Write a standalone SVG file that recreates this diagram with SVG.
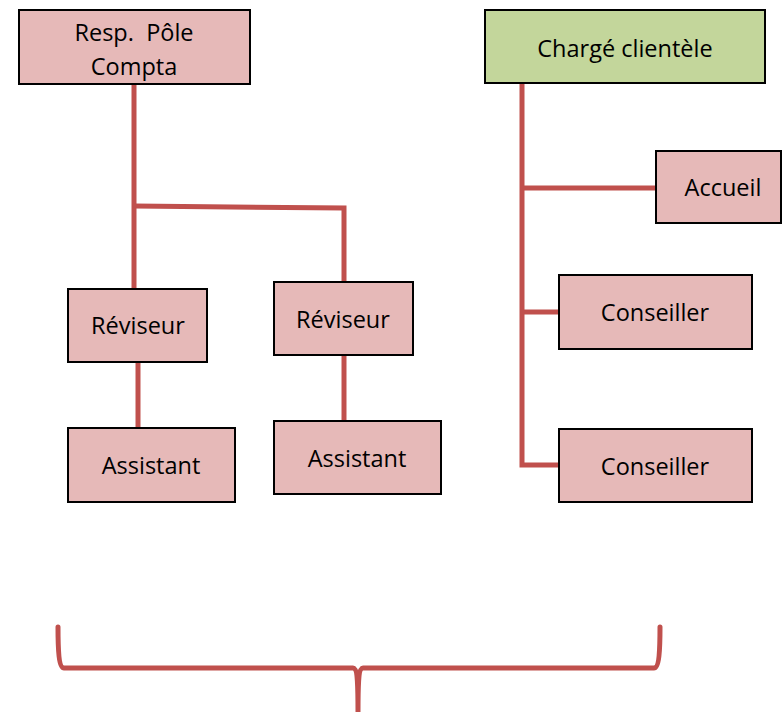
<svg xmlns="http://www.w3.org/2000/svg" width="783" height="716" viewBox="0 0 783 716">
  <style>
    .box { fill: #e6b9b8; stroke: #000; stroke-width: 2; }
    .head { fill: #c3d69b; stroke: #000; stroke-width: 2; }
    .lbl { font-family: "Open Sans", "Liberation Sans", sans-serif; font-size: 23.5px; fill: #000; text-anchor: middle; white-space: pre; }
    .wire { fill: none; stroke: #c0504d; stroke-width: 5; stroke-linejoin: miter; }
  </style>
  <rect width="783" height="716" fill="#fff"/>

  <g id="connectors">
    <!-- Compta branch -->
    <path class="wire" d="M134 84 V290"/>
    <path class="wire" d="M134 206 L344 208 V283"/>
    <path class="wire" d="M138 362 V428"/>
    <path class="wire" d="M344 348 V422"/>
    <!-- Clientèle branch -->
    <path class="wire" d="M522 84 V465 H559"/>
    <path class="wire" d="M522 188 H656"/>
    <path class="wire" d="M522 312 H559"/>
    <!-- brace under both teams -->
    <path class="wire" stroke-width="4.5" stroke-linecap="round" d="M58 627 C58 650 59 668 64 668 H353 C357 668 358 680 358 712 C358 680 359 668 363 668 H654 C659 668 660 650 660 627"/>
  </g>

  <g id="resp-pole">
    <rect class="box" x="19" y="10" width="231" height="74"/>
    <text class="lbl" x="134" y="41">Resp.  Pôle</text>
    <text class="lbl" x="134" y="75">Compta</text>
  </g>
  <g id="charge-clientele">
    <rect class="head" x="485" y="10" width="280" height="73"/>
    <text class="lbl" x="625" y="57">Chargé clientèle</text>
  </g>
  <g id="accueil">
    <rect class="box" x="656" y="151" width="125" height="72"/>
    <text class="lbl" x="723" y="196">Accueil</text>
  </g>
  <g id="reviseur-1">
    <rect class="box" x="68" y="289" width="139" height="73"/>
    <text class="lbl" x="138" y="334">Réviseur</text>
  </g>
  <g id="reviseur-2">
    <rect class="box" x="274" y="282" width="139" height="73"/>
    <text class="lbl" x="343" y="328">Réviseur</text>
  </g>
  <g id="assistant-1">
    <rect class="box" x="68" y="428" width="167" height="74"/>
    <text class="lbl" x="151" y="474">Assistant</text>
  </g>
  <g id="assistant-2">
    <rect class="box" x="274" y="421" width="167" height="73"/>
    <text class="lbl" x="357" y="467">Assistant</text>
  </g>
  <g id="conseiller-1">
    <rect class="box" x="559" y="275" width="193" height="74"/>
    <text class="lbl" x="655" y="321">Conseiller</text>
  </g>
  <g id="conseiller-2">
    <rect class="box" x="559" y="429" width="193" height="73"/>
    <text class="lbl" x="655" y="475">Conseiller</text>
  </g>
</svg>
